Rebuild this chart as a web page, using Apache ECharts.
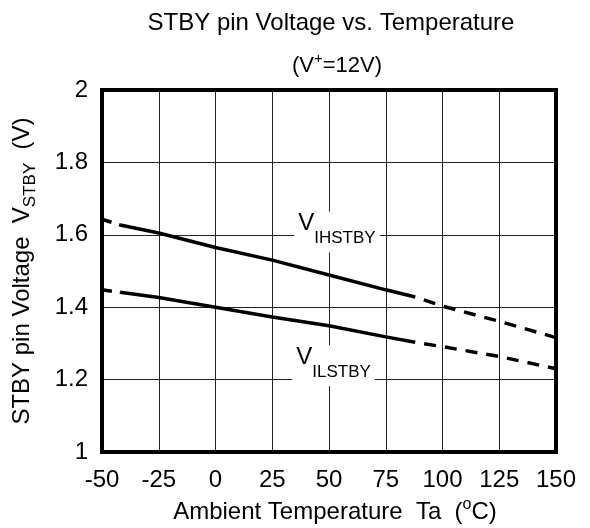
<!DOCTYPE html>
<html lang="en">
  <head>
    <meta charset="UTF-8" />
    <title>STBY pin Voltage vs. Temperature</title>
    <style>
      html, body { margin: 0; padding: 0; background: #fff; }
      #chart { width: 590px; height: 528px; }
    </style>
  </head>
  <body>
    <div id="chart"></div>

    <script src="https://cdn.jsdelivr.net/npm/echarts@6/dist/echarts.min.js"></script>
    <script>
      // values (Ta in degC, voltage in V)
      const xTicks = [-50, -25, 0, 25, 50, 75, 100, 125, 150];

      const vihLeftT = [-50, -42];
      const vihLeftV = [1.643, 1.627];
      const vihSolidT = [-42, -25, 0, 25, 50, 75, 88];
      const vihSolidV = [1.627, 1.605, 1.565, 1.53, 1.489, 1.448, 1.428];
      const vihRightT = [88, 100, 125, 150];
      const vihRightV = [1.428, 1.403, 1.361, 1.316];

      const vilLeftT = [-50, -42];
      const vilLeftV = [1.448, 1.441];
      const vilSolidT = [-42, -25, 0, 25, 50, 75, 88];
      const vilSolidV = [1.441, 1.427, 1.4, 1.373, 1.349, 1.318, 1.303];
      const vilRightT = [88, 100, 125, 150];
      const vilRightV = [1.303, 1.291, 1.264, 1.23];

      const FONT = 'Liberation Sans';
      const FS = 24;

      function pairs(xs, ys) {
        return xs.map((x, i) => [x, ys[i]]);
      }

      function curve(data, dash, offset) {
        return {
          type: 'line',
          data: data,
          symbol: 'none',
          silent: true,
          lineStyle: {
            color: '#000',
            width: 3.5,
            type: dash || 'solid',
            dashOffset: offset || 0,
            cap: 'butt'
          }
        };
      }

      // curve name box, white so it cuts the grid lines
      function nameMark(sub, at) {
        return {
          silent: true,
          symbol: 'rect',
          symbolSize: 1,
          itemStyle: { color: 'rgba(0,0,0,0)' },
          label: {
            show: true,
            position: 'inside',
            formatter: '{v|V}{s|' + sub + '}',
            backgroundColor: '#fff',
            padding: [0, 4, 6, 4],
            rich: {
              v: { fontFamily: FONT, fontSize: 24, color: '#000', verticalAlign: 'top', lineHeight: 28 },
              s: { fontFamily: FONT, fontSize: 17, color: '#000', verticalAlign: 'top', padding: [18, 0, 0, 0] }
            }
          },
          data: [{ coord: at }]
        };
      }

      const chart = echarts.init(document.getElementById('chart'), null, { renderer: 'canvas' });

      const series = [
        curve(pairs(vihLeftT, vihLeftV), [10, 8]),
        Object.assign(curve(pairs(vihSolidT, vihSolidV)), { markPoint: nameMark('IHSTBY', [53.5, 1.608]) }),
        curve(pairs(vihRightT, vihRightV), [12, 9], 12),
        curve(pairs(vilLeftT, vilLeftV), [10, 8]),
        Object.assign(curve(pairs(vilSolidT, vilSolidV)), { markPoint: nameMark('ILSTBY', [52, 1.238]) }),
        curve(pairs(vilRightT, vilRightV), [12, 9], 12)
      ];

      const option = {
        animation: false,
        backgroundColor: '#fff',
        title: [
          {
            text: 'STBY pin Voltage vs. Temperature',
            left: 326,
            top: 6,
            textAlign: 'center',
            textStyle: { fontFamily: FONT, fontSize: FS, fontWeight: 'normal', color: '#000' }
          },
          {
            text: '(V{sup|+}=12V)',
            left: 332,
            top: 46,
            textAlign: 'center',
            textStyle: {
              fontFamily: FONT, fontSize: 22, fontWeight: 'normal', color: '#000', lineHeight: 30,
              rich: { sup: { fontFamily: FONT, fontSize: 15, color: '#000', verticalAlign: 'top', lineHeight: 16 } }
            }
          }
        ],
        grid: {
          left: 102,
          right: 34,
          top: 90,
          bottom: 76,
          outerBoundsMode: 'none',
          containLabel: false,
          show: true,
          borderColor: '#000',
          borderWidth: 4,
          z: 3
        },
        xAxis: {
          type: 'value',
          min: xTicks[0],
          max: xTicks[xTicks.length - 1],
          interval: 25,
          name: 'Ambient Temperature  Ta  ({sup|o}C)',
          nameLocation: 'middle',
          nameGap: 44,
          nameTextStyle: {
            fontFamily: FONT, fontSize: FS, color: '#000', lineHeight: 30,
            padding: [0, 0, 0, 12],
            rich: { sup: { fontFamily: FONT, fontSize: 16, color: '#000', verticalAlign: 'top', lineHeight: 16 } }
          },
          axisLine: { show: false },
          axisTick: { show: false },
          axisLabel: { fontFamily: FONT, fontSize: FS, color: '#000', margin: 16 },
          splitLine: { show: true, lineStyle: { color: '#222', width: 1 } }
        },
        yAxis: {
          type: 'value',
          min: 1,
          max: 2,
          interval: 0.2,
          name: 'STBY pin Voltage  V{sub|STBY}  (V)',
          nameLocation: 'middle',
          nameGap: 63,
          nameTextStyle: {
            fontFamily: FONT, fontSize: FS, color: '#000', lineHeight: 34,
            rich: { sub: { fontFamily: FONT, fontSize: 17, color: '#000', verticalAlign: 'bottom', lineHeight: 17 } }
          },
          axisLine: { show: false },
          axisTick: { show: false },
          axisLabel: { fontFamily: FONT, fontSize: FS, color: '#000', margin: 14 },
          splitLine: { show: true, lineStyle: { color: '#222', width: 1 } }
        },
        series: series
      };

      chart.setOption(option);
    </script>
  </body>
</html>
